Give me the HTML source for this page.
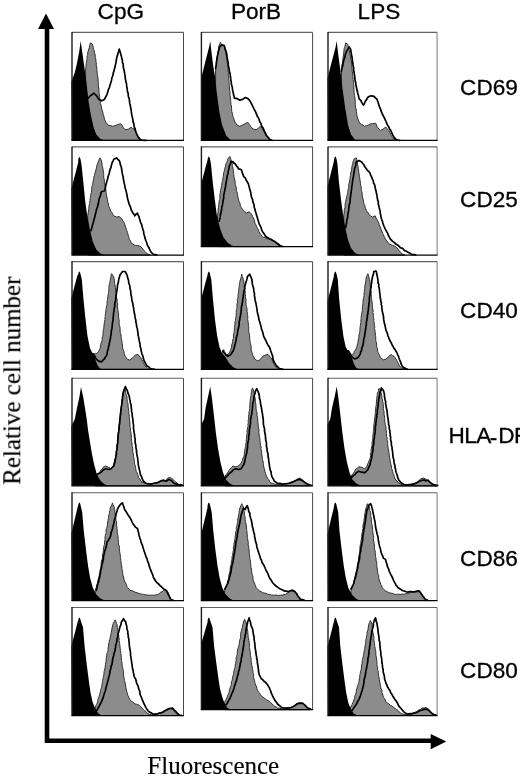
<!DOCTYPE html>
<html><head><meta charset="utf-8"><title>Figure</title>
<style>
html,body{margin:0;padding:0;background:#fff;}
body{width:520px;height:780px;overflow:hidden;position:relative;}
svg{position:absolute;left:0;top:0;display:block;}
.sans{font-family:"Liberation Sans",Arial,Helvetica,sans-serif;font-size:22.6px;fill:#000;stroke:#000;stroke-width:0.3;}
.serif{font-family:"Liberation Serif","Times New Roman",Times,serif;font-size:25px;fill:#000;stroke:#000;stroke-width:0.15;}
.g{fill:#8c8c8c;stroke:#2e2e2e;stroke-width:1.0;stroke-linejoin:round;}
.k{fill:#000;stroke:none;}
.l{fill:none;stroke:#000;stroke-width:1.7;stroke-linejoin:round;stroke-linecap:round;}
.ft{stroke:#626262;stroke-width:1.1;fill:none;}
.fr{stroke:#484848;stroke-width:1;fill:none;}
.fr3{stroke:#6c6c6c;stroke-width:0.9;fill:none;}
.fl{stroke:#1a1a1a;stroke-width:1.4;fill:none;}
.fb{stroke:#000;stroke-width:1.25;fill:none;}
</style></head>
<body>
<svg width="520" height="780" viewBox="0 0 520 780">
<defs><filter id="soft" x="0" y="0" width="520" height="780" filterUnits="userSpaceOnUse"><feGaussianBlur stdDeviation="0.4"/></filter></defs>
<rect width="520" height="780" fill="#fff"/>
<g filter="url(#soft)">
<!-- axes -->
<path d="M47,28V740.7H432" fill="none" stroke="#000" stroke-width="4.6" stroke-linejoin="miter"/>
<polygon points="46,13.5 38,29 54,29" fill="#000"/>
<polygon points="446.3,741.5 430.7,734 430.7,749.2" fill="#000"/>
<!-- column headers -->
<text class="sans" x="97.6" y="19.3">CpG</text>
<text class="sans" x="230.9" y="19.3">PorB</text>
<text class="sans" x="357.6" y="19.3">LPS</text>
<!-- row labels -->
<text class="sans" x="460.1" y="95.3">CD69</text>
<text class="sans" x="460.1" y="207.3">CD25</text>
<text class="sans" x="460.1" y="317.6">CD40</text>
<text class="sans" x="448.5" y="443.3" letter-spacing="-0.6" dx="0 0 0 -0.8 1.4 0" dy="0 0 0 1.5 -1.5 0">HLA-DR</text>
<text class="sans" x="460.1" y="565.5">CD86</text>
<text class="sans" x="460.1" y="678.3">CD80</text>
<!-- axis titles -->
<text class="serif" x="147.3" y="774">Fluorescence</text>
<text class="serif" transform="translate(20.3,484.8) rotate(-90)">Relative cell number</text>
<g><polygon class="g" points="85.6,140.3 85.6,68.5 86.0,67.1 86.0,65.0 86.2,63.5 86.6,61.8 86.6,60.5 87.1,58.8 87.0,57.4 87.4,55.3 87.7,54.4 87.7,52.3 88.3,51.1 88.5,49.4 89.3,47.8 89.5,45.7 89.9,44.6 90.4,42.9 92.3,44.2 93.0,46.3 93.2,47.8 93.5,49.4 94.1,50.3 94.5,52.3 94.9,54.0 95.3,56.0 95.1,57.7 95.9,59.3 95.9,61.6 96.3,63.1 96.3,64.8 96.5,66.9 97.0,68.1 96.8,69.6 97.2,71.9 97.1,73.2 97.6,74.9 97.7,76.5 98.0,78.2 98.2,79.9 98.1,81.3 98.3,82.9 98.4,84.4 98.3,85.9 98.7,88.0 98.8,89.1 99.0,91.4 99.0,92.7 99.5,94.8 99.7,96.7 99.7,98.0 100.0,99.7 100.3,102.0 100.4,103.5 101.0,105.3 101.5,107.1 101.7,109.0 102.4,111.0 102.8,112.1 103.1,114.2 103.7,115.8 104.2,117.8 104.6,119.3 105.0,120.4 105.8,122.3 107.3,123.8 108.5,125.5 110.7,125.6 112.5,126.3 114.3,125.9 116.5,125.0 118.3,124.4 120.6,123.7 121.7,125.0 122.5,125.9 123.3,127.7 124.7,128.9 126.0,129.8 128.7,129.0 130.0,128.0 131.3,127.2 132.6,128.5 134.0,129.0 134.7,130.4 136.1,132.3 136.7,134.4 137.4,135.5 138.7,137.5 139.4,138.5 140.5,139.3 142.1,140.3 142.1,140.3"/><polygon class="k" points="72.0,140.3 71.3,81.9 74.8,72.5 76.6,65.0 79.1,52.3 80.7,41.0 82.1,51.0 84.0,64.4 86.4,81.9 88.5,100.8 90.7,114.2 93.7,127.7 96.3,134.4 100.4,139.0 104.4,140.3 104.4,140.3"/><polyline class="l" points="88.3,98.1 89.4,96.7 91.0,95.4 92.4,94.5 93.7,93.2 95.1,94.3 96.3,95.4 97.4,96.8 97.9,98.0 99.0,99.4 101.7,100.8 104.4,99.4 105.1,98.0 106.4,95.7 107.1,94.0 107.6,92.6 108.1,90.6 108.6,89.1 109.3,87.9 109.8,86.0 110.1,84.8 110.7,83.1 111.3,81.0 111.7,79.4 111.8,78.0 112.5,76.5 113.1,74.8 113.2,73.2 114.0,70.9 114.3,69.5 114.9,67.3 115.2,65.8 115.5,64.6 115.9,62.8 116.3,61.1 116.3,59.6 116.8,57.8 117.1,56.3 117.8,54.4 118.1,52.9 118.8,51.2 119.2,49.1 119.8,50.7 120.5,53.0 120.9,54.7 121.4,56.3 121.7,57.9 122.1,59.2 122.4,61.3 122.5,62.8 123.1,63.9 123.3,65.8 123.4,67.6 123.8,69.2 124.3,71.3 124.6,73.0 124.8,74.4 125.2,76.5 125.2,78.0 125.7,80.1 125.8,81.5 126.4,83.2 126.6,85.0 126.8,86.6 127.1,88.5 127.3,90.0 127.5,92.0 128.2,93.2 128.2,95.2 128.5,96.9 129.2,98.7 129.5,100.8 129.6,102.9 130.0,104.4 130.4,106.0 130.7,107.7 131.1,109.5 131.3,111.5 131.5,113.1 131.9,115.5 132.3,117.3 132.6,118.5 133.0,120.3 133.2,122.3 133.9,123.8 134.0,125.4 134.4,127.5 135.2,128.8 135.4,130.4 135.9,131.7 136.5,133.6 137.5,135.5 138.1,137.1 139.6,138.7 140.8,139.8 142.5,140.1 144.3,140.3 146.2,140.3"/><path class="ft" d="M72.0,32.4H183.5"/><path class="fr" d="M183.5,32.4V140.3"/><path class="fl" d="M72.0,31.9V140.3"/><path class="fb" d="M71.4,140.3H184.0"/></g>
<g><polygon class="g" points="215.6,140.3 215.6,68.5 215.6,67.0 216.2,64.7 216.2,63.0 216.6,61.5 216.5,59.1 216.9,57.7 217.4,55.9 217.7,53.8 217.8,52.7 218.0,51.2 218.7,48.6 218.5,47.3 219.1,45.6 220.0,43.7 220.4,42.1 221.2,43.8 222.3,45.6 224.5,45.6 224.5,47.0 225.1,48.9 225.3,50.4 225.8,52.3 225.9,54.0 226.2,55.2 226.7,57.4 226.8,58.8 227.3,61.0 227.0,62.3 227.6,64.3 227.7,65.8 228.1,67.3 228.1,69.2 228.0,70.7 228.4,72.5 228.4,73.9 228.2,75.2 228.8,77.0 228.6,78.7 229.0,80.5 229.0,81.9 229.1,83.5 229.3,85.4 229.5,86.7 229.6,88.0 229.5,90.2 230.1,91.7 229.9,92.9 230.1,95.3 230.4,96.5 230.4,98.1 230.7,99.5 230.7,101.8 230.9,103.1 230.9,104.9 231.5,106.0 231.5,108.5 231.8,110.1 231.7,111.5 232.3,113.1 232.7,114.6 232.8,116.6 233.6,117.6 234.0,119.4 234.4,121.0 235.2,122.2 236.2,123.8 237.1,125.0 239.8,126.3 242.5,125.0 245.2,123.7 247.9,122.3 248.8,123.6 249.4,124.8 250.6,126.3 251.7,127.8 253.3,129.0 256.0,129.8 257.5,129.0 258.7,127.7 260.5,126.3 261.8,128.0 262.7,129.0 263.5,131.1 264.6,132.3 265.4,134.4 266.0,135.3 267.3,136.9 268.1,138.5 269.2,139.5 270.8,140.3 270.8,140.3"/><polygon class="k" points="201.4,140.3 201.3,77.9 205.6,60.4 209.1,46.9 210.2,41.0 211.5,52.3 213.2,65.8 215.0,76.5 216.4,90.0 219.3,111.5 222.0,125.0 226.3,135.8 230.4,139.8 230.4,140.3"/><polyline class="l" points="215.6,68.5 215.9,66.5 216.3,65.4 216.4,63.5 216.5,61.5 216.8,60.2 217.1,58.7 217.3,56.4 217.7,55.0 217.9,53.6 218.4,51.7 218.8,50.3 219.2,48.3 219.6,46.9 221.8,44.8 224.2,45.6 224.7,47.1 225.1,49.2 225.9,50.8 226.3,52.3 226.8,54.0 226.9,55.8 227.2,57.8 227.4,59.5 227.9,61.2 228.2,63.1 228.3,64.9 228.5,66.5 228.9,67.8 229.2,69.5 229.4,71.6 230.0,73.1 230.2,74.8 230.4,76.5 230.7,78.5 230.8,80.2 231.3,81.7 231.2,82.9 231.5,84.8 232.2,86.9 232.4,88.0 232.5,90.0 233.0,91.8 233.4,93.5 233.5,94.6 234.2,96.7 234.4,98.1 237.1,98.6 239.8,100.2 242.5,99.4 244.0,98.4 245.2,97.5 247.9,98.6 249.4,100.1 250.6,102.1 251.7,104.2 252.3,105.4 253.3,107.5 254.2,109.4 255.0,110.7 256.0,112.9 256.8,114.9 257.6,116.8 258.7,118.3 259.2,119.7 259.8,122.0 260.9,123.2 261.3,125.0 262.0,126.9 263.3,128.2 264.0,130.4 265.0,132.5 265.8,134.0 266.7,135.8 268.2,137.3 269.4,139.3 272.1,140.3"/><path class="ft" d="M201.4,32.4H312.6"/><path class="fr" d="M312.6,32.4V140.3"/><path class="fl" d="M201.4,31.9V140.3"/><path class="fb" d="M200.8,140.3H313.1"/></g>
<g><polygon class="g" points="341.5,140.3 341.5,68.5 342.0,67.2 341.7,64.9 342.4,63.8 342.5,61.8 342.7,60.5 342.9,58.5 343.0,57.1 343.4,56.0 343.7,54.0 343.7,52.3 344.0,50.5 344.1,48.7 344.6,47.4 344.9,46.4 345.3,44.5 345.6,42.9 347.7,44.2 348.0,45.4 348.4,47.1 348.9,49.5 349.3,50.4 349.6,52.3 350.1,54.4 350.4,56.3 350.7,58.0 350.8,59.9 351.4,61.0 351.5,63.1 351.8,65.0 351.8,66.5 352.0,68.5 352.2,70.1 352.3,71.8 352.7,73.1 352.7,75.2 352.8,76.5 353.1,78.1 353.0,79.6 353.4,81.1 353.6,82.8 353.7,84.4 353.9,86.4 353.8,87.9 354.0,89.5 354.0,90.8 354.2,92.7 354.4,94.8 354.6,95.7 354.9,97.9 355.1,99.1 355.2,100.7 355.3,102.6 355.2,104.8 355.5,106.2 355.6,107.9 356.3,109.4 356.3,111.7 356.7,113.3 356.8,114.7 357.2,116.7 357.7,118.3 358.4,120.5 359.2,122.1 360.4,123.7 361.5,124.3 363.2,125.1 364.4,126.3 366.3,125.8 368.5,125.0 370.4,123.9 372.5,123.7 375.2,123.1 376.4,124.3 376.7,126.0 377.9,127.7 379.3,129.3 380.6,130.4 383.3,129.0 384.4,127.9 386.0,127.2 387.1,128.7 388.7,130.4 389.7,132.4 390.7,134.2 391.3,135.8 392.9,137.7 394.0,139.3 396.7,140.3 396.7,140.3"/><polygon class="k" points="328.0,140.3 327.5,77.9 332.1,60.4 335.6,46.9 336.7,41.0 338.3,55.0 340.5,71.2 342.3,87.3 345.3,108.8 348.0,125.0 351.0,134.4 355.0,139.8 355.0,140.3"/><polyline class="l" points="341.4,71.3 341.6,69.7 342.0,68.1 342.6,66.1 343.0,64.5 343.3,62.7 343.6,60.8 344.3,58.9 344.9,57.1 345.2,55.0 345.8,53.2 346.3,52.0 347.2,50.2 348.2,48.6 349.1,46.9 350.6,49.2 350.9,51.2 351.2,53.1 351.5,55.1 352.0,56.9 352.2,58.6 352.3,59.8 352.6,61.9 352.9,63.5 353.0,64.9 353.3,66.6 353.7,68.0 353.6,69.9 354.0,71.5 354.2,73.1 354.5,75.1 354.8,76.5 354.8,78.1 355.1,80.1 355.4,81.5 355.8,83.2 355.9,84.9 356.3,86.7 356.6,88.0 356.8,89.6 357.5,91.6 357.7,93.8 358.4,95.1 358.7,97.3 359.4,99.2 360.8,100.4 361.6,102.1 362.4,103.7 363.5,105.0 364.7,102.8 365.4,101.1 366.4,99.9 367.2,98.3 368.3,96.9 371.2,95.8 374.1,96.4 375.4,97.8 377.0,99.2 377.5,100.8 378.2,102.8 378.9,105.0 379.3,106.3 380.0,107.9 380.7,109.5 381.1,110.9 381.8,112.7 382.4,114.3 383.1,115.5 384.1,117.3 384.7,118.5 385.4,120.4 386.2,121.6 386.6,123.2 387.6,125.2 388.7,126.8 389.6,128.9 390.6,130.2 391.4,131.9 391.9,133.2 392.7,134.9 393.7,136.6 394.3,137.7 395.8,139.2 397.2,140.0 399.7,140.3"/><path class="ft" d="M328.0,32.4H437.1"/><path class="fr3" d="M437.1,32.4V140.3"/><path class="fl" d="M328.0,31.9V140.3"/><path class="fb" d="M327.4,140.3H437.6"/></g>
<g><polygon class="g" points="87.7,255.0 87.7,215.8 88.0,214.0 88.2,212.1 88.6,211.0 88.8,208.7 88.9,207.2 89.0,206.1 89.6,203.6 89.6,202.3 90.1,200.7 90.1,198.7 90.5,197.2 90.8,195.7 90.8,194.1 91.5,192.6 91.6,190.1 91.8,188.8 91.8,186.8 92.7,185.3 92.7,184.2 93.0,182.2 93.4,180.0 93.8,179.1 93.9,176.8 94.5,175.4 94.9,173.2 95.4,172.1 95.9,170.0 96.4,167.9 96.7,166.3 97.2,164.6 97.9,162.6 98.6,160.9 99.0,159.8 99.8,157.9 101.0,159.8 101.7,161.9 102.0,163.3 102.1,165.3 102.4,166.4 102.8,168.1 103.1,170.0 103.4,172.1 103.7,173.6 103.7,175.3 103.7,177.4 104.1,178.8 104.4,180.8 104.4,182.4 104.9,184.0 105.3,186.0 105.2,187.5 105.8,189.2 105.9,190.5 106.1,192.5 106.3,194.2 106.6,196.0 107.1,197.9 107.4,199.3 107.7,201.8 108.1,202.8 108.5,205.0 108.9,206.7 109.6,208.0 110.3,210.0 111.2,211.7 112.3,213.1 112.9,214.4 113.8,215.8 116.5,217.1 119.2,216.6 120.6,217.7 121.9,219.0 122.9,221.0 123.8,222.2 124.6,223.8 125.2,225.9 125.5,227.0 126.3,229.1 126.8,230.6 127.3,232.3 127.9,233.9 128.3,236.0 128.7,237.3 129.5,239.4 130.6,241.2 131.3,242.7 132.4,244.0 134.2,244.9 135.4,245.4 137.7,245.5 139.4,245.9 140.9,246.7 142.1,248.1 143.5,250.1 144.8,251.3 146.0,252.5 147.5,254.0 150.2,254.8 150.2,255.0"/><polygon class="k" points="72.0,255.0 71.3,188.8 75.6,172.7 78.3,161.9 78.2,159.8 78.9,157.2 79.9,157.2 80.6,159.8 81.5,164.6 83.2,180.8 85.0,199.6 87.2,215.8 89.9,229.2 92.6,241.3 96.3,249.4 100.4,253.5 104.4,254.8 104.4,255.0"/><polyline class="l" points="91.0,230.6 91.6,228.9 92.0,227.2 92.3,225.7 92.8,224.0 93.2,222.6 93.7,221.2 93.9,219.6 94.7,217.3 95.1,215.8 95.4,214.0 96.0,212.0 96.3,210.4 96.7,208.6 97.5,207.1 97.8,205.0 98.3,203.6 98.8,201.2 99.0,199.6 99.5,197.8 100.1,196.7 100.7,194.6 101.0,192.9 101.7,191.5 104.4,191.0 105.0,189.5 105.6,186.8 105.7,185.1 106.3,183.5 106.7,181.6 107.2,180.2 107.7,178.6 108.0,176.6 108.5,175.4 109.1,173.8 109.5,172.1 109.6,171.1 110.3,168.8 110.9,167.9 111.2,166.0 111.6,164.6 112.3,162.3 113.0,161.2 113.8,159.2 116.5,157.9 117.9,159.3 119.2,160.6 119.9,162.1 120.1,163.6 120.7,165.7 121.4,167.3 121.5,168.7 121.9,170.5 122.1,172.4 122.5,174.4 123.1,176.4 123.3,178.1 123.4,179.5 123.9,181.6 124.3,183.5 124.8,185.4 124.9,186.9 125.4,188.8 126.0,190.5 126.4,192.4 126.7,193.8 127.0,195.1 127.3,196.9 127.6,198.5 128.0,199.9 128.4,201.5 128.8,203.1 129.5,205.0 130.2,206.3 130.9,208.5 131.3,210.0 132.2,211.7 133.1,213.4 134.0,214.1 134.8,215.8 136.0,214.2 137.5,213.1 138.0,215.1 139.0,216.4 139.4,218.5 140.1,220.4 140.4,221.7 140.9,223.2 141.7,224.7 142.1,226.5 142.6,228.4 143.2,230.5 143.7,231.8 143.8,234.0 144.5,235.8 144.8,237.3 145.4,239.3 145.7,240.3 146.5,242.0 147.0,243.8 147.5,245.4 148.5,247.0 149.5,249.0 150.2,250.8 151.3,252.2 152.9,254.0 154.9,254.7 156.9,254.8"/><path class="ft" d="M72.0,146.9H183.5"/><path class="fr" d="M183.5,146.9V255.0"/><path class="fl" d="M72.0,146.4V255.0"/><path class="fb" d="M71.4,255.0H184.0"/></g>
<g><polygon class="g" points="217.5,246.6 217.5,215.8 217.6,214.1 218.1,212.4 218.1,210.8 218.1,209.0 218.5,207.6 218.5,205.5 218.7,204.3 219.1,202.3 219.4,200.2 219.8,199.4 219.9,197.4 219.8,195.1 220.3,193.5 220.3,192.0 220.5,190.5 221.0,188.8 221.2,187.4 221.6,185.4 221.9,183.6 222.2,181.5 222.8,180.3 222.8,178.1 223.4,176.5 223.5,174.2 223.8,172.3 224.4,170.8 224.8,169.0 225.0,167.3 225.8,166.0 225.8,163.8 226.8,162.4 227.4,160.8 227.7,159.2 228.5,158.0 229.8,156.5 230.6,158.1 230.9,160.0 231.7,161.9 232.3,164.0 232.2,165.3 232.5,166.9 233.1,168.8 233.3,170.9 233.6,172.7 233.7,174.6 234.0,176.2 234.2,177.7 234.5,179.2 235.2,181.4 235.1,183.1 235.3,184.4 235.8,186.2 236.3,188.1 236.3,190.2 236.7,191.3 237.4,193.2 237.5,194.7 237.9,196.9 238.2,198.6 238.7,200.2 239.2,201.6 240.0,203.2 240.2,205.1 240.6,206.3 241.3,207.4 242.6,209.3 243.3,210.4 244.8,211.5 246.5,213.1 249.2,211.7 250.7,213.5 251.9,214.4 252.4,216.5 253.5,217.9 253.9,219.1 254.6,221.2 255.0,223.3 255.8,224.7 256.5,226.5 257.3,227.9 258.3,229.5 258.9,231.7 260.0,233.3 260.8,234.4 262.2,236.3 263.2,237.3 265.0,237.8 266.7,238.7 269.0,239.1 270.8,240.0 272.1,240.5 274.0,241.3 275.3,242.3 276.7,244.0 278.3,245.0 280.2,246.2 280.2,246.6"/><polygon class="k" points="201.4,246.6 201.3,183.5 204.8,170.0 207.4,160.6 207.6,159.2 208.4,156.7 209.3,156.7 210.1,159.2 211.0,164.6 212.6,180.8 214.8,199.6 216.9,215.8 219.9,227.9 223.4,237.3 227.7,242.7 231.7,245.4 235.8,246.5 235.8,246.6"/><polyline class="l" points="219.1,221.2 219.6,219.3 220.0,217.9 220.2,216.4 220.4,214.4 221.0,213.1 221.2,211.2 221.6,209.8 221.7,208.1 221.9,206.8 222.5,204.9 222.7,203.2 223.0,201.6 223.1,200.1 223.6,198.7 223.7,196.9 223.7,195.0 224.2,193.5 224.3,192.4 224.9,190.1 224.8,188.9 225.5,187.5 225.6,185.8 225.8,184.0 226.2,182.1 226.3,180.8 226.8,179.3 226.9,177.6 227.2,176.1 227.8,174.0 228.1,172.7 228.3,170.4 228.8,169.3 229.0,167.3 229.6,165.5 230.4,163.5 231.2,161.4 233.1,161.9 234.3,163.4 235.5,164.1 236.5,166.1 237.7,167.0 238.5,168.9 241.2,169.5 241.9,171.2 242.1,172.6 242.7,173.7 243.3,175.7 244.0,176.9 245.3,178.0 246.0,179.7 247.3,182.0 248.4,183.7 248.8,185.7 249.4,187.6 249.8,189.6 250.3,191.0 250.7,192.4 250.9,194.0 251.3,196.2 251.7,197.7 252.5,199.1 252.7,200.7 252.9,202.1 253.8,203.9 254.1,205.4 254.2,207.2 254.8,208.7 255.3,210.7 255.7,212.3 256.2,213.7 256.6,215.3 257.2,217.0 257.7,219.1 258.1,220.4 258.7,222.0 259.1,223.8 259.9,225.2 260.5,226.3 261.2,227.8 261.6,229.8 262.4,231.4 263.7,233.2 264.6,234.5 265.4,236.2 267.4,237.5 269.4,238.7 271.0,239.3 272.9,240.5 274.7,241.4 276.7,243.0 278.2,244.0 280.2,245.7 282.9,246.5"/><path class="ft" d="M201.4,146.9H312.6"/><path class="fr" d="M312.6,146.9V246.6"/><path class="fl" d="M201.4,146.4V246.6"/><path class="fb" d="M200.8,246.6H313.1"/></g>
<g><polygon class="g" points="343.7,255.0 343.7,215.8 343.9,214.2 344.3,212.1 344.1,210.6 344.5,209.3 345.0,207.4 345.1,205.8 345.1,203.9 345.6,202.3 345.8,201.1 346.1,199.4 346.5,197.6 347.0,195.8 347.5,194.2 347.9,192.1 347.8,191.2 348.3,188.8 348.8,187.9 348.6,185.7 348.9,184.0 349.4,182.1 349.6,180.8 350.0,178.7 350.0,177.7 350.4,175.6 350.7,174.0 350.9,171.9 351.4,171.1 351.8,169.1 351.8,167.3 352.2,165.5 352.8,164.0 353.0,161.9 353.6,160.4 354.2,158.7 356.3,157.9 356.8,159.5 356.7,161.3 357.3,162.6 357.5,164.1 357.9,166.0 358.2,167.3 358.3,169.1 358.6,171.1 358.8,172.5 359.2,174.6 359.3,176.2 359.8,178.1 359.9,179.6 360.3,181.9 360.5,183.5 360.6,185.2 361.0,186.2 361.4,188.5 361.2,189.6 361.7,191.5 362.2,193.2 362.2,194.7 362.4,197.0 363.2,199.2 363.3,200.1 363.6,202.3 364.1,204.2 364.9,205.7 365.1,207.2 365.8,208.9 366.3,210.4 367.1,212.1 368.3,212.8 369.0,214.4 370.6,216.1 372.5,217.1 375.2,215.8 376.0,218.0 377.0,219.5 377.9,221.2 378.7,222.6 379.1,224.3 380.0,226.4 380.6,227.9 381.1,229.9 381.9,231.0 382.6,233.4 383.3,234.6 384.2,236.5 385.3,238.6 386.0,240.0 387.3,241.3 388.3,243.1 389.5,244.0 391.2,244.8 392.7,245.4 394.2,245.9 395.9,246.7 397.2,248.1 398.0,249.6 399.4,250.8 401.0,252.7 402.1,254.0 404.8,254.8 404.8,255.0"/><polygon class="k" points="328.0,255.0 327.5,186.2 331.0,172.7 333.7,161.9 334.1,159.2 334.9,156.7 335.8,156.7 336.6,159.2 337.5,164.6 338.8,180.8 341.0,199.6 343.2,215.8 345.3,227.9 348.0,240.0 351.0,248.1 355.0,252.9 359.0,254.8 359.0,255.0"/><polyline class="l" points="345.6,227.9 345.9,226.3 346.2,224.6 346.7,222.9 346.6,220.7 347.1,219.1 347.6,217.7 347.7,215.8 348.0,214.0 348.1,212.6 348.7,210.7 348.7,209.2 349.0,207.5 349.0,206.2 349.3,204.6 349.9,202.9 350.1,201.5 350.2,199.6 350.2,197.8 350.7,196.4 350.6,195.0 351.1,193.1 351.2,191.3 351.5,189.6 351.7,188.7 351.7,186.5 352.1,185.4 352.3,183.5 352.4,181.7 352.9,179.8 352.9,178.6 353.4,176.8 353.7,174.7 353.9,173.4 354.2,171.4 354.5,170.0 354.6,168.4 355.3,166.9 355.8,165.1 355.9,163.4 356.3,161.9 359.0,160.6 361.7,161.9 362.6,163.4 363.7,164.3 364.4,166.0 365.4,167.5 366.3,168.6 367.1,170.0 368.3,171.2 369.8,172.7 370.5,174.6 371.0,175.9 371.8,177.4 372.5,179.4 373.3,180.9 373.5,183.0 374.3,184.1 374.9,186.1 375.2,187.5 375.5,189.0 376.0,191.0 376.2,192.1 376.6,193.9 377.0,195.6 377.1,196.9 377.5,199.0 377.8,200.6 378.3,202.3 378.3,204.4 378.9,205.9 379.2,207.7 379.6,209.3 380.1,211.1 380.2,213.2 380.7,214.7 380.8,216.6 381.4,218.5 381.9,220.1 382.5,221.5 382.8,223.0 383.6,225.3 384.1,226.5 385.1,228.7 385.7,229.9 386.8,231.9 387.8,233.6 388.5,235.8 389.5,237.3 390.3,239.0 391.5,240.1 392.7,241.3 394.4,242.7 395.9,244.0 397.8,245.2 399.4,246.7 400.6,247.8 402.3,248.2 403.5,249.4 404.6,250.7 405.9,250.9 407.5,252.1 409.5,253.1 411.5,254.3 413.7,254.5 415.6,254.8"/><path class="ft" d="M328.0,146.9H437.1"/><path class="fr3" d="M437.1,146.9V255.0"/><path class="fl" d="M328.0,146.4V255.0"/><path class="fb" d="M327.4,255.0H437.6"/></g>
<g><polygon class="g" points="92.8,369.4 92.8,353.7 94.8,353.8 96.3,353.7 97.8,352.7 99.0,351.0 99.4,349.5 100.2,348.2 100.4,346.0 100.8,345.1 101.1,342.9 101.7,341.5 102.2,339.8 102.1,338.0 102.8,336.3 102.8,334.9 103.2,333.1 103.1,331.5 103.4,329.4 103.9,328.1 103.9,326.6 104.1,325.0 104.3,322.9 104.4,321.8 105.0,319.7 104.9,317.9 105.3,316.6 105.2,315.3 105.6,313.5 105.8,311.9 105.8,310.4 106.2,308.6 106.2,307.5 106.8,305.6 107.1,303.9 107.0,301.9 107.3,300.6 107.5,299.4 107.9,297.0 107.9,295.8 108.4,293.6 108.5,292.2 108.8,291.1 108.9,289.3 108.9,287.5 109.1,285.6 109.5,283.6 109.8,282.3 110.3,280.2 110.4,278.5 111.0,277.0 111.1,275.0 111.7,273.7 112.6,275.3 113.8,276.9 113.9,278.3 114.5,280.5 114.5,282.1 114.7,283.9 115.1,285.6 115.5,287.7 115.5,289.1 115.8,291.1 116.3,292.9 116.2,294.0 116.3,296.2 116.6,298.1 117.1,299.3 117.1,301.2 117.2,302.6 117.5,304.0 117.4,306.3 117.7,308.0 117.8,309.5 118.0,310.5 118.2,312.2 118.6,314.3 118.5,316.1 118.7,317.3 118.9,319.3 119.2,320.2 119.1,322.5 119.2,324.2 119.4,325.6 119.9,326.9 120.1,328.7 120.1,330.0 120.1,332.0 120.6,333.5 121.0,335.0 121.2,336.7 121.2,338.8 121.7,339.8 122.0,341.7 122.1,343.4 122.5,345.1 122.5,346.9 122.7,348.1 123.1,349.8 123.9,351.3 124.0,353.2 124.6,355.0 125.3,356.6 126.1,357.9 127.3,359.0 130.0,360.4 131.3,358.7 132.7,357.7 133.9,356.4 135.4,355.0 138.1,354.5 139.3,356.0 140.8,357.7 141.6,359.5 142.7,361.1 143.5,363.1 144.4,364.6 145.1,366.0 146.2,367.1 147.3,368.1 148.8,369.0 148.8,369.4"/><polygon class="k" points="72.0,369.4 71.3,298.5 74.8,285.0 77.4,275.6 78.2,274.2 78.9,271.7 79.9,271.7 80.6,274.2 81.8,279.6 83.4,298.5 85.3,317.3 87.5,336.2 90.0,348.3 92.7,353.7 94.3,355.5 96.1,361.7 98.0,366.3 100.9,369.0 100.9,369.4"/><polyline class="l" points="92.8,353.7 93.8,354.8 94.9,356.5 95.5,357.7 96.9,359.7 98.2,360.9 99.8,361.6 101.7,361.7 102.9,360.2 104.4,359.0 105.2,357.4 106.4,355.6 107.1,353.7 107.4,351.6 107.8,350.0 108.3,348.5 108.5,346.5 109.2,345.2 109.2,343.6 109.8,341.5 110.1,339.8 110.5,338.3 110.6,336.4 110.9,335.1 111.3,332.8 111.2,331.3 111.6,330.0 112.0,328.1 112.2,326.2 112.3,324.9 112.5,323.0 112.8,321.4 113.1,319.9 113.1,318.6 113.2,317.1 113.5,315.2 113.5,313.4 113.8,311.9 114.1,310.6 114.1,309.0 114.7,306.7 114.8,305.3 114.7,304.2 115.0,302.2 115.5,300.7 115.8,299.4 115.8,297.1 116.0,295.8 116.4,293.8 116.5,292.1 117.0,290.3 117.2,288.9 117.4,287.3 117.5,285.1 117.9,283.7 118.4,282.1 118.6,280.2 118.9,278.8 119.5,277.0 119.8,275.6 120.4,274.2 121.4,273.1 122.5,271.5 125.2,271.5 126.3,273.6 127.3,275.6 127.5,277.3 128.0,278.9 128.5,280.0 128.6,281.9 128.9,283.2 129.5,285.0 129.9,286.4 130.0,288.3 130.6,290.6 130.8,292.4 130.9,294.2 131.3,295.8 131.6,297.5 131.8,299.2 132.2,301.4 132.6,302.8 133.0,304.6 133.2,306.5 133.7,308.1 133.7,309.9 134.2,311.8 134.4,313.5 134.8,315.0 135.0,316.9 135.4,318.7 135.8,320.1 135.9,322.4 136.3,323.4 136.6,326.0 136.9,327.5 137.4,328.8 137.5,330.8 138.0,332.2 138.0,334.5 138.4,336.4 138.8,338.0 139.1,339.9 139.4,341.5 140.0,343.7 140.1,345.5 140.3,347.1 140.9,348.4 141.1,350.7 141.6,352.3 141.8,353.9 142.6,355.3 143.1,356.8 143.3,358.4 144.0,360.4 144.9,362.1 145.9,364.1 146.7,365.8 148.6,366.7 150.2,368.5 152.2,369.1 154.2,369.0"/><path class="ft" d="M72.0,261.6H183.5"/><path class="fr" d="M183.5,261.6V369.4"/><path class="fl" d="M72.0,261.1V369.4"/><path class="fb" d="M71.4,369.4H184.0"/></g>
<g><polygon class="g" points="222.3,369.4 222.3,352.3 223.7,349.6 224.4,351.6 225.5,353.2 226.3,355.0 229.0,353.7 229.6,352.2 230.6,350.3 231.1,348.4 231.7,346.9 231.7,345.1 232.3,343.2 232.7,341.6 232.7,339.8 233.3,338.7 233.5,336.9 233.4,335.0 233.9,333.5 234.1,331.5 234.5,330.1 234.3,328.9 234.4,327.4 234.8,325.4 234.9,323.8 235.0,321.7 235.6,320.3 235.7,318.7 235.8,317.3 236.2,315.9 236.2,314.1 236.3,312.4 236.3,310.4 236.8,308.5 237.0,307.4 236.9,305.2 237.1,303.5 237.6,301.8 237.2,299.8 237.7,298.5 238.0,297.3 238.1,295.2 238.3,293.8 238.4,292.1 238.8,290.5 238.8,288.5 239.1,287.5 239.3,285.6 239.5,283.6 239.8,282.3 240.0,281.0 240.7,279.0 241.0,277.6 241.5,276.3 241.7,274.2 242.2,276.5 243.0,277.9 243.3,279.6 243.8,281.4 243.8,283.0 244.3,284.7 244.2,287.1 244.8,288.6 244.9,290.4 245.3,291.6 245.1,293.4 245.4,294.9 245.3,296.7 245.9,298.9 246.0,300.1 245.9,302.1 246.2,303.5 246.1,304.7 246.5,306.5 246.9,308.4 247.1,309.9 247.0,311.5 247.4,312.8 247.4,314.4 247.7,315.8 247.8,318.3 247.6,319.5 248.1,321.4 248.2,322.7 248.4,324.1 248.4,326.3 248.9,327.2 248.6,328.8 248.7,330.7 248.9,332.7 249.4,333.7 249.5,335.5 249.6,337.0 249.8,338.8 249.9,340.2 250.2,342.4 250.6,343.5 251.0,345.9 251.3,347.5 251.1,348.9 251.4,350.9 251.9,352.3 252.4,354.2 253.1,355.9 253.8,356.9 254.6,359.0 255.9,359.8 257.3,360.9 260.0,359.8 261.6,357.9 262.7,356.3 265.4,355.0 268.1,354.5 269.4,356.1 270.8,357.7 271.9,359.1 272.6,361.3 273.5,363.1 274.5,364.8 275.2,365.9 276.2,367.1 277.5,368.2 278.8,369.3 278.8,369.4"/><polygon class="k" points="201.4,369.4 201.3,298.5 204.8,285.0 207.4,275.6 207.6,274.2 208.4,271.7 209.3,271.7 210.1,274.2 211.3,279.6 212.9,298.5 215.0,320.0 217.2,336.2 219.5,346.9 222.2,353.7 224.9,356.3 229.0,363.1 233.1,367.1 237.1,369.3 237.1,369.4"/><polyline class="l" points="222.8,351.0 223.7,352.4 225.0,353.7 226.3,355.3 227.7,356.3 230.4,355.0 231.3,353.7 232.4,352.1 233.1,351.0 233.7,349.3 234.1,348.2 234.6,346.3 235.0,344.3 235.3,343.4 235.8,341.5 236.2,339.8 236.3,338.1 236.7,336.2 237.3,334.9 237.5,332.9 237.7,331.4 238.0,329.6 238.5,328.1 238.7,326.6 239.2,324.3 239.1,323.3 239.3,321.2 239.8,319.7 239.9,318.2 240.4,315.9 240.6,314.6 240.9,312.9 241.0,311.4 241.3,310.0 241.3,307.9 241.6,306.3 242.0,305.2 242.1,303.5 242.5,302.0 242.7,300.1 242.8,298.5 243.2,296.6 243.4,294.9 243.6,293.3 244.0,291.3 244.3,290.0 244.8,288.5 244.7,286.6 245.2,285.0 245.7,283.1 246.2,281.4 246.6,280.2 247.1,278.4 247.3,276.9 248.5,275.3 249.8,274.2 250.4,275.9 251.2,277.6 251.9,279.6 252.1,281.7 252.3,283.6 252.7,285.2 253.3,287.2 253.6,288.2 253.8,290.4 254.2,292.6 254.5,294.0 254.4,295.4 254.8,297.7 255.0,299.4 255.4,301.2 255.9,303.0 256.2,305.0 256.5,306.1 256.8,308.4 257.1,309.9 257.3,311.9 257.5,313.1 258.0,314.8 258.5,316.7 258.7,318.1 258.9,319.5 259.5,321.3 260.1,322.7 260.4,324.5 260.9,325.8 261.2,327.3 261.5,329.1 262.2,330.8 262.7,332.2 263.2,334.0 263.5,335.9 264.1,337.2 264.8,338.8 265.8,340.2 266.5,342.1 267.5,344.2 268.3,345.6 269.4,346.9 270.2,349.1 270.7,350.8 271.3,352.3 271.7,353.9 272.4,355.2 272.8,357.0 273.0,359.1 273.5,360.4 274.3,362.5 275.3,363.7 276.2,365.8 278.0,366.9 279.4,368.7 281.2,368.9 282.9,369.3"/><path class="ft" d="M201.4,261.6H312.6"/><path class="fr" d="M312.6,261.6V369.4"/><path class="fl" d="M201.4,261.1V369.4"/><path class="fb" d="M200.8,369.4H313.1"/></g>
<g><polygon class="g" points="348.3,369.4 348.3,350.2 349.4,351.4 349.8,353.8 351.0,355.0 353.7,353.7 354.4,351.5 355.5,349.9 356.3,348.3 356.9,346.5 357.3,345.0 357.5,343.9 357.9,342.4 358.3,340.0 358.5,338.8 358.9,337.2 358.9,335.2 359.4,333.9 359.7,332.4 359.9,330.5 360.0,328.9 360.0,327.5 360.4,325.4 360.5,324.0 361.0,322.3 360.8,320.8 361.2,318.6 361.1,317.3 361.3,316.1 361.7,314.1 361.8,312.6 362.3,310.7 362.3,309.2 362.4,307.6 362.6,305.9 362.9,304.0 363.1,302.4 363.0,301.1 363.4,298.9 363.6,297.6 364.1,295.5 364.0,293.4 364.4,291.8 364.4,290.4 364.7,288.6 364.8,286.9 365.0,284.9 365.4,283.9 365.7,281.7 365.9,279.9 366.0,278.9 366.3,276.9 367.3,275.3 367.9,273.7 368.6,275.7 369.0,277.7 369.5,279.6 370.0,281.5 369.9,283.2 370.2,284.5 370.5,286.6 370.6,288.4 370.5,289.7 371.0,291.3 371.2,293.1 371.1,294.9 371.4,296.1 371.4,298.3 371.7,299.2 371.8,300.9 372.3,302.5 372.2,304.0 372.4,305.7 372.5,307.8 372.8,309.2 373.2,311.1 372.8,312.4 373.4,313.7 373.3,315.7 373.5,317.5 373.9,318.9 373.8,320.3 373.9,321.8 374.3,323.5 374.4,325.4 374.8,327.1 374.5,328.6 374.9,329.8 375.0,331.4 375.3,333.0 375.4,335.5 375.7,336.5 375.7,338.0 375.8,340.3 376.0,341.5 376.5,342.9 376.6,345.3 376.8,347.2 377.5,348.8 377.5,350.8 377.9,352.3 378.8,353.8 379.6,355.6 380.6,357.7 382.1,358.8 383.3,359.8 386.0,359.0 387.4,358.0 388.7,356.3 390.3,355.1 391.3,354.5 392.6,355.7 394.0,356.3 395.1,357.6 395.9,358.8 396.7,360.4 397.4,361.8 398.5,363.7 399.4,365.8 400.8,367.5 402.1,368.5 404.8,369.3 404.8,369.4"/><polygon class="k" points="328.0,369.4 327.5,301.2 331.0,287.7 333.7,276.9 334.1,274.2 334.9,271.7 335.8,271.7 336.6,274.2 337.8,279.6 339.1,298.5 341.3,320.0 343.4,336.2 345.7,346.9 348.1,351.0 350.0,353.7 352.3,359.0 354.2,364.4 356.3,367.9 359.3,369.3 359.3,369.4"/><polyline class="l" points="348.3,351.0 349.2,352.4 350.2,353.7 351.1,355.7 352.3,357.2 353.8,358.3 355.0,359.0 357.7,357.7 358.6,356.6 359.6,355.1 360.4,353.7 360.6,352.0 361.5,350.6 361.7,349.0 362.0,347.2 362.8,345.8 363.1,344.2 363.3,343.0 363.6,341.0 363.7,339.5 364.2,337.6 364.6,336.3 364.7,334.8 364.9,333.3 365.3,331.2 365.5,330.1 365.8,328.1 366.0,326.1 366.4,324.8 366.3,323.2 366.5,321.7 366.9,320.0 367.1,318.3 367.4,317.0 367.3,315.3 367.9,313.9 367.9,311.9 368.3,310.6 368.4,308.8 368.6,306.6 368.8,305.2 368.9,303.1 369.3,301.9 369.4,299.7 369.3,298.0 369.6,296.4 370.0,294.7 370.1,293.1 370.5,291.0 370.5,290.0 370.8,288.2 371.2,286.5 371.1,284.3 371.7,282.9 371.7,281.0 372.0,279.6 372.3,277.9 372.6,276.5 373.2,274.9 373.6,273.5 373.8,271.5 376.0,271.0 376.5,272.4 376.8,274.6 377.3,276.2 377.5,277.7 377.9,279.6 378.0,281.6 378.1,283.2 378.8,284.3 378.7,286.2 379.2,288.3 379.5,289.8 379.5,291.4 379.8,293.1 380.0,294.9 380.1,296.7 380.3,298.4 380.7,299.3 380.8,301.4 381.4,302.6 381.2,304.5 381.8,306.0 381.9,307.9 382.1,309.4 382.2,310.9 382.7,313.0 383.1,314.7 383.5,316.4 383.6,318.1 383.7,320.1 384.1,321.3 384.3,323.2 384.8,324.3 385.1,326.1 385.4,327.3 385.8,329.6 386.2,330.8 387.0,332.3 387.5,333.9 387.9,335.8 388.7,337.5 389.5,339.7 390.3,341.3 391.3,342.9 392.1,345.0 393.3,346.8 394.0,348.3 395.0,349.3 396.0,351.3 396.7,352.3 397.5,354.3 398.3,355.8 398.9,357.7 399.4,359.2 400.1,360.9 400.8,362.6 401.3,364.4 402.4,366.5 404.0,367.9 405.8,368.6 407.5,369.3"/><path class="ft" d="M328.0,261.6H437.1"/><path class="fr3" d="M437.1,261.6V369.4"/><path class="fl" d="M328.0,261.1V369.4"/><path class="fb" d="M327.4,369.4H437.6"/></g>
<g><polygon class="g" points="95.0,485.8 95.0,476.7 96.4,475.2 97.7,474.0 98.8,472.8 100.4,471.3 101.1,469.8 102.1,468.8 103.1,467.3 105.8,466.0 108.5,467.3 111.2,468.7 112.3,467.3 113.2,466.4 113.8,464.6 114.1,462.4 114.4,461.3 115.0,459.6 115.5,457.6 115.7,455.3 116.0,453.8 115.9,452.5 116.5,450.9 116.6,449.2 116.8,447.7 116.7,445.8 117.0,444.5 117.5,442.3 117.3,440.7 117.6,439.6 117.9,437.7 118.0,436.2 118.1,434.3 118.2,432.7 118.6,431.2 119.0,429.1 118.7,427.8 119.3,425.7 119.2,424.4 119.3,422.1 119.7,420.7 119.8,418.8 120.1,417.4 120.2,415.3 120.2,413.4 120.5,411.9 120.9,410.4 120.9,408.5 121.2,406.7 121.5,405.3 121.6,403.3 121.7,401.9 121.9,400.0 122.5,398.3 122.5,396.8 122.7,394.7 122.9,393.2 123.4,391.4 123.8,389.8 124.9,388.7 125.5,390.6 125.6,392.3 126.0,394.4 126.8,396.0 127.0,398.0 127.1,399.7 127.3,401.5 127.6,402.5 128.1,404.9 128.0,406.4 128.4,408.1 128.5,409.4 128.7,411.7 128.8,413.2 129.2,414.8 129.3,416.5 129.3,417.7 129.5,419.0 129.7,421.2 129.9,422.3 130.0,424.2 130.0,425.8 130.1,427.2 130.6,428.7 130.4,430.4 130.8,431.9 131.1,434.0 131.3,435.8 131.4,437.2 131.3,438.9 131.6,440.4 131.6,441.8 132.1,443.7 132.0,445.2 132.4,446.6 132.6,448.1 132.6,450.0 132.8,451.9 133.1,453.1 133.5,455.2 133.5,456.5 134.0,457.9 134.0,459.5 134.5,461.6 134.5,463.7 134.8,464.5 135.5,466.6 135.8,468.4 135.9,470.0 136.3,471.5 137.1,472.6 137.7,474.4 138.1,475.9 138.6,477.5 139.8,479.0 140.6,480.2 141.6,482.1 144.0,482.5 146.2,483.5 148.0,483.2 149.5,483.9 151.5,484.0 153.2,483.7 155.2,483.2 156.9,482.9 159.0,482.0 161.0,481.3 162.7,481.3 165.0,480.8 166.4,479.8 167.7,478.1 170.4,477.5 171.8,478.6 173.1,479.4 174.2,480.9 175.8,482.1 177.1,483.0 178.5,484.3 181.2,485.3 181.2,485.8"/><polygon class="k" points="72.0,485.8 71.3,426.4 74.8,419.1 77.0,408.1 79.4,397.0 81.0,387.1 83.2,397.0 85.0,408.1 86.7,419.1 88.1,430.4 89.9,441.5 91.7,452.5 93.9,463.5 96.9,474.6 100.9,481.3 104.4,484.3 107.1,485.3 107.1,485.8"/><polyline class="l" points="95.0,476.7 96.4,475.2 97.7,474.0 100.4,472.7 101.8,471.6 103.1,470.0 105.8,468.7 108.5,469.5 111.2,468.7 112.6,466.9 113.8,466.0 114.1,464.3 114.8,462.9 114.9,461.4 115.1,459.8 115.7,457.9 116.0,456.5 116.1,454.9 116.6,453.2 116.3,451.9 116.9,449.9 117.1,448.8 117.1,447.0 117.3,445.3 117.5,443.9 117.9,442.3 117.9,440.4 117.9,439.0 118.0,436.7 118.2,434.9 118.5,433.2 118.7,432.1 118.9,429.8 119.2,428.4 119.1,426.5 119.3,425.0 119.8,423.0 119.8,421.5 119.9,419.6 120.2,418.4 120.2,416.1 120.5,414.7 120.7,413.1 120.8,411.3 121.0,409.6 121.2,408.1 121.5,405.8 121.8,404.3 121.9,402.7 122.2,400.6 122.5,399.0 122.5,397.5 122.8,395.7 123.1,393.8 123.4,392.1 123.8,390.6 124.8,388.3 125.4,386.5 126.3,388.6 127.3,390.6 127.7,392.0 128.3,394.2 129.1,395.7 129.5,397.3 129.6,398.9 130.2,400.7 130.2,402.5 130.9,404.2 131.2,405.9 131.3,408.1 131.6,410.0 131.5,411.4 132.2,413.5 132.2,414.6 132.3,416.3 132.6,417.9 132.9,420.0 133.0,421.5 133.1,423.1 133.5,424.6 133.5,426.1 133.5,428.1 133.7,429.6 133.9,431.1 134.2,432.9 134.6,435.0 134.6,436.3 134.8,437.7 135.2,439.5 135.0,441.5 135.3,443.3 135.6,444.2 135.9,446.1 135.9,447.5 136.3,449.2 136.5,451.2 136.6,452.7 136.9,454.5 137.3,456.5 137.6,457.7 137.8,459.9 137.9,461.3 138.2,462.9 138.3,464.6 138.7,466.7 139.0,467.7 139.3,469.5 139.9,471.4 140.2,473.4 140.5,474.8 141.3,476.1 142.0,478.2 142.4,479.0 143.2,480.8 144.5,482.2 146.2,483.5 148.8,484.0 150.8,484.1 152.9,483.5 154.9,483.0 156.9,482.9 158.8,481.9 161.0,480.8 163.7,480.2 166.3,481.3 167.5,480.4 169.0,479.4 171.7,480.8 173.0,482.3 174.4,483.5 176.4,484.1 178.5,484.8 180.9,484.7 183.0,485.3"/><path class="ft" d="M72.0,378.3H183.5"/><path class="fr" d="M183.5,378.3V485.8"/><path class="fl" d="M72.0,377.8V485.8"/><path class="fb" d="M71.4,485.8H184.0"/></g>
<g><polygon class="g" points="225.0,485.8 225.0,476.7 225.6,475.0 226.7,474.2 227.7,472.7 228.4,471.0 229.3,470.2 230.4,468.7 231.5,467.5 233.1,466.0 235.8,466.8 238.5,466.0 239.9,464.3 241.2,463.3 241.8,461.5 242.5,460.4 243.0,457.8 243.8,456.5 244.4,454.8 244.2,453.0 244.6,451.9 244.8,449.6 245.2,448.2 245.7,446.7 245.7,444.5 246.0,443.1 246.4,441.8 246.1,439.9 246.7,438.1 246.5,436.5 247.0,434.2 247.1,432.5 247.0,430.9 247.3,429.3 247.6,428.0 248.0,426.4 247.9,424.2 248.3,422.8 248.1,420.5 248.5,419.1 248.7,417.0 248.6,416.0 249.0,414.1 248.9,412.1 249.5,410.7 249.7,408.5 249.6,407.4 249.8,405.4 249.9,404.0 250.2,401.7 250.2,400.8 250.4,398.4 250.7,397.2 251.2,395.3 251.2,393.9 251.4,391.9 251.8,389.8 252.5,387.9 253.3,390.0 254.1,391.9 254.1,393.3 254.4,395.5 254.9,397.4 255.2,398.4 255.4,400.8 255.4,401.6 255.7,403.5 256.0,405.4 256.0,406.6 256.1,408.9 256.3,410.3 256.6,411.6 257.1,413.3 256.9,415.0 257.4,416.7 257.7,418.2 257.7,420.1 257.8,421.5 258.0,423.4 258.2,424.6 258.2,426.9 258.8,428.8 258.9,430.2 258.8,432.1 259.0,433.5 259.2,435.1 259.5,436.9 259.9,438.7 260.0,440.4 260.1,442.3 260.6,443.9 260.4,445.3 261.1,446.6 260.9,448.7 261.2,450.0 261.7,451.6 261.6,453.1 261.9,455.1 262.2,456.5 262.4,458.5 262.5,459.7 263.1,461.6 263.4,463.7 263.5,464.7 263.7,466.6 264.2,468.3 264.6,470.0 264.8,471.2 265.6,473.5 266.1,475.2 266.8,476.4 267.3,478.1 268.6,479.5 269.7,481.6 270.8,482.9 272.8,483.4 274.8,484.3 276.3,484.3 278.0,484.0 279.9,484.5 281.5,484.0 283.4,483.8 285.3,483.5 286.9,483.5 288.9,483.4 291.0,482.9 293.0,481.6 295.0,480.8 296.3,480.0 297.7,478.6 300.4,478.1 301.6,479.3 303.1,480.2 304.2,482.0 305.8,482.9 307.9,484.0 309.8,485.3 309.8,485.8"/><polygon class="k" points="201.4,485.8 201.3,424.8 204.1,419.1 205.6,408.1 208.5,394.6 210.2,386.5 211.8,397.3 213.7,413.5 215.8,432.3 218.0,448.5 220.4,461.9 223.1,472.7 225.8,479.4 229.8,483.5 233.1,485.3 233.1,485.8"/><polyline class="l" points="225.0,478.1 226.3,476.9 227.7,475.4 228.8,473.9 230.4,472.7 231.7,471.7 233.1,470.0 235.8,468.7 238.5,469.5 241.2,468.7 242.0,467.4 242.8,465.7 243.8,464.6 244.4,462.9 244.8,461.0 245.2,459.0 245.5,457.1 245.9,455.6 246.5,453.8 246.8,452.4 247.0,450.9 247.3,448.6 247.6,447.4 247.6,445.4 247.7,443.8 247.9,442.8 248.2,441.1 248.7,439.4 248.7,437.7 248.7,435.7 249.3,434.3 249.2,432.9 249.3,431.1 249.4,429.1 249.8,427.8 250.0,425.8 250.4,424.1 250.6,422.5 250.4,420.3 250.8,418.8 251.0,417.1 251.4,415.3 251.7,414.2 251.8,412.2 252.1,410.9 252.3,409.0 252.5,407.3 252.5,405.6 252.7,404.7 253.0,402.7 253.6,400.6 253.8,398.7 254.0,397.3 254.3,395.1 254.9,394.0 255.2,391.9 255.8,390.2 256.8,388.7 257.5,390.4 258.1,391.6 258.7,393.3 259.2,395.1 259.4,396.5 259.4,398.3 260.0,399.5 260.3,401.3 260.5,402.7 260.6,404.1 261.0,405.8 261.4,407.5 261.7,409.5 262.0,411.3 262.2,412.5 262.6,414.6 262.7,416.2 262.9,418.1 263.3,419.5 263.3,420.8 263.3,422.3 263.5,424.4 263.8,426.0 264.1,427.2 264.6,429.0 264.4,430.8 264.8,432.3 265.1,434.3 265.4,435.4 265.5,436.9 265.6,438.7 265.8,440.7 266.3,441.9 266.5,443.5 266.4,445.0 266.6,447.0 267.0,448.5 267.1,449.8 267.3,451.7 267.9,453.2 268.1,455.3 268.0,456.5 268.6,458.5 268.7,459.6 268.8,461.8 269.2,463.3 269.3,464.8 269.6,466.7 270.0,468.7 270.3,470.4 271.1,471.7 271.2,473.9 271.6,475.4 272.1,476.9 272.8,478.3 273.6,479.5 274.3,481.3 276.1,482.3 277.5,483.5 279.1,483.4 281.0,483.7 282.9,484.3 284.8,483.8 286.5,483.7 288.3,483.5 290.2,482.9 292.3,482.1 294.3,481.3 296.3,480.2 299.0,479.4 301.7,480.2 303.1,481.3 304.4,482.1 306.0,483.3 307.1,484.0 309.3,484.9 311.2,485.3"/><path class="ft" d="M201.4,378.3H312.6"/><path class="fr" d="M312.6,378.3V485.8"/><path class="fl" d="M201.4,377.8V485.8"/><path class="fb" d="M200.8,485.8H313.1"/></g>
<g><polygon class="g" points="351.0,485.8 351.0,476.7 351.6,475.1 352.7,474.4 353.7,472.7 354.5,471.5 355.2,470.0 356.3,468.7 357.9,467.7 359.0,466.8 361.7,467.3 364.4,468.7 366.0,467.7 367.1,466.0 367.7,463.8 368.6,462.3 368.9,461.1 369.8,459.2 370.3,457.9 370.6,455.6 370.4,453.8 371.1,452.2 371.0,450.4 371.2,448.7 371.6,447.1 372.0,445.8 372.0,444.4 372.1,442.6 372.6,440.7 372.7,439.2 372.9,437.0 372.9,435.3 373.1,434.2 373.3,431.7 373.5,430.6 373.6,428.8 373.8,426.9 373.8,424.8 374.3,423.1 374.3,421.7 374.4,419.7 374.4,418.8 375.0,417.0 375.0,415.3 375.4,413.3 375.4,411.5 375.4,409.7 375.7,408.1 376.0,406.2 376.3,404.8 376.3,403.4 376.5,401.2 376.5,399.4 376.6,398.6 377.0,397.0 377.3,394.7 377.3,393.3 378.3,391.4 378.7,388.7 380.6,389.2 380.9,390.7 381.1,392.5 381.4,394.2 381.9,396.8 382.0,398.5 382.5,400.0 382.7,401.7 383.1,403.3 383.2,404.6 383.5,406.4 383.2,408.8 383.8,410.3 384.0,411.7 384.1,413.5 384.1,414.9 384.7,417.1 384.5,418.3 384.8,420.3 384.8,421.8 385.1,423.2 385.2,424.4 385.8,426.4 386.0,428.3 386.0,429.6 386.3,430.8 386.4,433.3 386.5,434.1 386.5,436.5 387.2,437.5 387.0,439.5 387.3,440.6 387.7,442.6 387.6,443.7 387.8,445.8 388.1,447.7 388.2,448.8 388.8,451.2 388.9,452.5 389.3,454.2 389.3,455.7 389.6,457.3 390.0,459.2 390.1,460.9 390.6,463.1 391.0,465.0 391.6,466.2 391.6,468.3 392.2,470.0 392.7,471.6 393.0,473.3 393.9,474.8 394.2,476.8 394.8,478.1 395.8,480.1 397.1,480.9 398.1,482.9 400.1,483.5 402.1,484.8 404.0,484.7 405.3,485.2 407.3,484.9 408.8,484.8 410.9,484.0 412.9,484.0 415.2,482.9 416.9,482.1 418.6,480.8 420.2,479.4 421.9,478.3 423.7,478.1 426.3,479.4 427.9,480.8 429.0,482.1 431.0,483.5 433.1,484.3 435.6,485.0 437.7,485.3 437.7,485.8"/><polygon class="k" points="328.0,485.8 327.5,424.8 330.3,419.1 331.8,408.9 334.8,396.0 336.7,386.5 338.3,397.3 340.2,413.5 342.3,432.3 344.5,448.5 346.9,461.9 349.6,472.7 352.3,479.4 356.3,483.5 360.4,485.3 360.4,485.8"/><polyline class="l" points="351.0,478.1 352.3,476.7 353.7,475.4 355.2,474.4 356.3,472.7 359.0,471.3 361.7,472.2 364.4,472.7 365.7,471.9 367.1,470.5 368.1,469.3 368.4,468.0 369.2,466.3 370.1,464.6 370.3,462.9 370.7,461.2 371.3,459.5 371.7,457.7 371.9,455.7 372.2,453.8 372.6,452.3 372.8,450.5 373.1,449.3 372.9,447.6 373.3,445.9 373.7,444.3 373.8,442.8 373.8,440.6 374.1,439.2 374.4,437.7 374.4,435.7 374.7,434.8 375.0,432.9 375.2,431.4 375.3,429.4 375.3,428.1 375.4,426.4 375.8,424.6 375.8,423.6 376.0,421.9 376.3,420.2 376.3,418.3 376.8,417.2 376.6,415.4 377.2,413.9 377.3,412.4 377.3,410.6 377.5,408.9 377.9,407.6 378.1,405.8 378.2,404.0 378.2,402.7 378.6,401.1 378.6,399.3 379.1,397.9 379.4,396.0 379.7,394.3 379.8,392.7 380.5,390.9 381.1,389.8 381.4,387.9 382.4,389.4 383.5,390.6 384.0,392.6 384.4,394.4 384.5,396.6 384.8,398.2 385.2,400.0 385.6,401.4 385.6,403.5 385.9,405.3 386.2,407.1 386.5,408.2 386.8,409.8 387.1,411.7 387.3,413.5 387.4,414.8 387.7,416.9 388.1,418.6 388.1,420.1 388.4,421.2 388.6,423.3 388.6,424.5 389.3,426.6 389.2,427.8 389.5,429.6 389.9,431.3 389.9,433.0 390.3,434.1 390.2,435.8 390.7,437.3 390.5,439.6 390.8,440.5 391.4,442.7 391.3,444.4 391.6,445.8 392.0,447.0 392.1,449.3 392.5,451.0 392.7,452.6 392.8,454.3 392.9,455.6 393.1,457.5 393.7,459.0 393.8,460.6 394.1,462.7 394.4,464.1 394.9,465.4 395.0,467.4 395.6,469.1 395.6,470.7 396.2,472.7 396.8,474.2 397.5,476.1 397.6,477.5 398.1,478.3 398.9,480.2 400.6,482.1 402.1,483.5 404.3,484.5 406.2,484.8 407.8,484.9 409.6,484.5 411.5,484.8 413.7,483.9 415.6,483.5 417.4,482.6 419.1,481.3 420.9,480.8 422.3,480.2 424.2,480.1 425.5,480.8 428.2,480.2 429.4,481.7 430.9,482.9 432.7,484.2 434.4,484.8 436.1,485.4 437.7,485.3"/><path class="ft" d="M328.0,378.3H437.1"/><path class="fr3" d="M437.1,378.3V485.8"/><path class="fl" d="M328.0,377.8V485.8"/><path class="fb" d="M327.4,485.8H437.6"/></g>
<g><polygon class="g" points="95.0,600.5 95.0,591.7 95.4,590.5 95.6,588.4 96.6,587.2 96.6,585.3 97.4,583.8 97.7,582.3 97.8,581.0 98.2,579.1 98.8,577.2 99.3,575.3 99.4,573.5 100.0,571.9 100.1,570.8 100.4,568.8 100.9,566.9 101.1,565.9 101.1,564.2 101.3,562.1 101.5,560.6 102.2,559.1 102.5,557.9 102.4,555.9 102.6,554.4 103.1,552.7 103.4,551.1 103.3,549.4 103.6,547.9 104.0,545.5 104.6,544.5 104.5,542.8 104.7,540.7 105.1,539.2 105.0,536.9 105.3,535.5 105.8,533.8 106.2,532.4 106.1,530.8 106.4,528.6 106.8,527.8 107.3,525.7 107.5,523.9 107.5,523.0 108.0,520.6 108.1,519.6 108.5,517.7 108.6,515.6 109.3,513.9 109.5,512.2 109.9,510.3 110.1,509.0 110.6,506.9 111.7,505.3 112.5,502.9 112.9,504.4 113.9,506.3 114.4,508.3 114.8,509.8 114.8,511.9 115.0,513.5 115.1,515.5 115.6,516.7 115.8,518.8 116.0,520.4 116.4,521.6 116.6,523.7 116.3,525.1 116.9,526.5 117.0,528.5 117.2,529.7 117.1,532.1 117.3,533.0 117.7,534.5 117.9,536.5 118.2,538.4 118.2,539.9 118.4,541.6 118.5,542.6 118.6,545.0 119.3,546.0 119.3,547.6 119.4,549.4 119.6,551.4 119.8,552.7 120.2,554.7 120.4,555.9 120.3,557.8 120.7,558.8 120.8,560.4 121.2,562.8 121.0,564.1 121.7,566.0 121.8,566.9 121.9,568.8 122.3,570.5 122.7,572.3 122.8,574.3 123.2,575.7 123.8,578.0 124.1,579.6 124.5,580.9 125.4,582.6 126.3,584.5 126.8,586.3 127.6,587.7 128.9,589.0 130.0,590.4 132.1,590.7 134.0,591.7 135.9,592.5 138.1,593.1 139.6,593.5 141.5,594.2 143.5,594.4 145.3,594.8 146.9,595.0 148.8,595.2 150.6,595.2 152.5,595.2 154.2,595.2 156.4,594.8 158.3,594.4 159.5,593.1 160.7,592.2 162.3,591.7 163.4,590.6 165.0,589.0 166.4,590.2 167.7,591.7 168.6,593.3 169.1,595.5 169.8,597.1 170.6,598.7 171.7,600.3 171.7,600.5"/><polygon class="k" points="72.0,600.5 71.3,533.8 74.8,519.0 77.4,508.3 78.2,505.3 78.9,502.8 79.9,502.8 80.6,505.3 82.2,512.3 83.8,531.2 86.0,550.0 88.1,566.2 90.2,578.3 92.8,587.7 96.3,594.4 100.4,598.5 104.4,600.3 104.4,600.5"/><polyline class="l" points="96.3,590.4 96.9,588.3 97.1,586.8 97.5,585.2 97.9,583.0 98.7,581.7 99.0,579.6 99.3,578.3 99.9,576.0 99.9,574.8 100.5,573.2 100.5,571.2 101.0,569.5 101.5,568.0 101.7,566.2 101.9,564.8 102.5,563.0 102.8,561.2 103.3,559.7 103.4,557.5 103.6,555.8 104.1,554.0 104.4,552.7 104.9,550.6 105.5,549.0 105.9,547.6 106.4,545.9 106.7,543.9 107.1,541.9 108.1,540.9 108.9,539.3 109.8,537.9 110.4,536.5 110.9,534.6 111.0,532.9 111.5,531.7 112.0,530.3 112.5,528.5 112.8,527.0 113.5,524.8 113.8,523.1 114.1,521.7 114.6,519.2 115.2,517.7 115.7,516.2 116.0,514.2 116.3,513.1 117.1,511.2 117.4,509.7 117.9,508.3 118.8,506.8 119.6,505.5 120.6,504.2 122.5,502.9 123.1,504.8 123.7,506.5 124.0,507.6 124.6,509.6 125.5,510.8 126.6,512.4 127.3,513.7 128.1,515.1 129.3,516.7 130.0,517.7 131.0,519.6 131.9,521.6 132.7,523.1 133.4,524.3 134.3,525.6 135.4,527.1 137.5,528.5 137.9,530.1 138.3,531.8 138.7,533.1 139.0,535.2 139.4,536.5 139.9,538.3 140.7,540.1 141.0,541.7 141.4,543.2 142.1,544.6 142.6,546.1 143.2,548.2 143.7,549.7 144.2,551.4 144.8,552.7 145.1,554.0 145.7,555.6 146.3,557.4 147.1,558.9 147.5,560.8 148.2,562.7 148.7,563.6 149.1,565.8 149.8,567.4 150.2,568.8 151.0,570.6 151.6,572.3 152.4,574.0 152.9,575.6 153.6,577.7 154.6,579.3 155.6,581.0 156.9,582.6 158.3,583.7 159.6,585.1 161.0,586.3 162.3,587.7 163.7,589.0 166.3,590.4 167.3,592.6 168.2,594.4 168.9,595.7 169.7,597.1 170.4,599.0 173.1,600.3"/><path class="ft" d="M72.0,492.8H183.5"/><path class="fr" d="M183.5,492.8V600.5"/><path class="fl" d="M72.0,492.3V600.5"/><path class="fb" d="M71.4,600.5H184.0"/></g>
<g><polygon class="g" points="224.5,600.5 224.5,590.4 225.1,588.5 225.6,587.4 226.5,585.5 227.2,583.7 227.6,581.8 228.0,580.3 228.5,578.6 228.9,576.7 228.9,574.7 229.6,573.0 229.8,571.5 230.2,570.0 230.1,568.6 230.4,567.0 231.1,564.8 231.3,563.7 231.3,562.0 231.5,560.6 232.1,559.0 232.0,556.8 232.5,555.4 232.8,553.8 232.9,552.3 233.5,550.1 233.3,548.7 233.7,547.0 234.0,545.0 234.0,543.1 234.5,541.9 234.7,540.2 235.0,538.6 235.2,536.5 235.6,534.8 235.5,532.9 235.7,532.0 236.4,530.3 236.2,528.6 236.5,527.2 237.0,525.5 237.2,523.5 237.6,522.4 237.7,520.4 237.8,518.6 238.4,517.1 238.5,515.1 239.1,513.3 239.0,511.9 239.4,510.4 239.8,508.3 240.3,507.1 241.0,505.6 241.7,503.7 242.6,505.5 243.3,506.9 243.5,508.4 243.7,510.2 244.3,511.9 244.4,514.2 244.7,515.7 245.2,517.7 245.2,519.5 245.4,521.4 245.8,522.7 246.0,524.2 246.4,526.1 246.5,527.0 246.6,529.4 246.8,530.6 247.0,531.9 247.1,533.8 247.4,535.8 247.2,537.3 247.7,538.9 248.0,541.1 248.3,542.2 248.1,544.4 248.5,546.1 248.8,547.4 248.9,549.1 249.2,551.2 249.2,552.7 249.3,554.3 249.7,555.7 249.7,557.5 249.9,559.1 250.5,561.1 250.3,562.7 250.9,564.2 250.7,565.8 251.0,567.5 251.4,568.8 251.6,570.5 251.8,572.6 252.2,574.4 252.6,575.5 253.0,577.5 253.0,579.5 253.5,581.0 254.1,582.2 255.0,584.5 255.5,585.7 256.2,587.7 257.9,589.4 259.5,590.9 261.1,591.6 262.5,592.6 264.0,593.1 265.7,593.2 267.6,594.2 269.4,594.4 271.4,595.0 273.0,595.2 274.8,595.2 276.4,595.1 278.2,595.5 280.2,595.2 282.3,595.1 283.9,594.6 285.6,594.4 287.1,593.2 288.2,592.5 289.6,591.7 291.2,590.5 292.3,589.8 295.0,590.9 295.7,592.2 297.0,594.0 297.7,595.8 298.8,596.9 299.7,598.2 300.4,599.8 300.4,600.5"/><polygon class="k" points="201.4,600.5 201.3,533.8 204.8,519.0 207.4,508.3 207.6,505.3 208.4,502.8 209.3,502.8 210.1,505.3 211.7,512.3 213.3,531.2 215.4,550.0 217.6,566.2 219.7,578.3 222.3,587.7 225.8,594.4 229.8,598.5 233.1,600.3 233.1,600.5"/><polyline class="l" points="225.0,589.0 225.9,586.9 226.9,585.2 227.7,583.7 228.2,581.7 228.5,580.6 229.1,579.3 229.4,577.2 229.9,576.0 230.4,574.2 230.9,572.3 231.2,570.8 231.3,569.4 231.6,567.5 232.0,565.6 232.2,564.4 232.9,562.7 233.1,560.8 233.4,559.2 233.6,557.6 233.9,555.6 234.1,554.2 234.5,553.0 234.7,551.0 234.9,549.5 235.3,547.9 235.4,546.5 235.8,544.6 235.8,542.9 236.1,541.2 236.6,539.9 236.8,538.0 237.2,536.7 237.2,535.1 237.6,533.3 237.9,531.4 238.2,529.8 238.5,528.5 238.9,527.1 239.2,525.0 239.6,523.7 240.0,521.8 240.1,519.9 240.7,518.3 240.7,516.8 241.2,515.0 241.6,513.7 242.3,511.4 242.9,510.0 243.3,508.3 245.2,509.6 245.9,507.6 247.1,505.6 247.7,506.9 248.4,509.2 248.6,511.0 249.2,512.3 249.9,513.5 249.9,515.6 250.4,517.2 250.8,518.6 251.4,520.4 251.6,522.0 252.1,523.7 252.2,526.0 252.8,527.9 253.2,529.5 253.5,531.2 253.9,532.7 254.5,534.5 254.5,536.5 255.1,538.2 255.2,539.8 255.7,541.9 256.4,543.9 256.7,545.2 256.8,547.1 257.4,548.5 257.8,550.0 258.3,551.4 258.8,553.1 259.5,555.0 260.0,556.7 260.5,558.6 261.5,560.2 261.9,562.1 262.7,563.5 263.8,565.0 264.6,566.8 265.4,568.8 266.3,570.9 267.4,572.5 268.1,574.2 268.8,576.0 269.7,578.2 270.8,579.6 271.8,581.3 272.5,582.4 273.5,583.7 274.6,584.6 276.2,586.3 277.3,586.9 278.9,588.1 280.2,589.0 282.2,589.8 284.2,590.9 286.0,591.2 288.3,591.7 290.1,590.8 292.3,590.4 295.0,591.7 296.0,593.0 296.9,594.1 297.7,595.8 299.1,597.5 300.4,599.3 302.4,599.6 304.4,600.3"/><path class="ft" d="M201.4,492.8H312.6"/><path class="fr" d="M312.6,492.8V600.5"/><path class="fl" d="M201.4,492.3V600.5"/><path class="fb" d="M200.8,600.5H313.1"/></g>
<g><polygon class="g" points="351.0,600.5 351.0,590.4 351.7,588.3 352.2,586.8 353.1,585.5 353.7,583.7 354.3,581.6 354.4,579.8 354.7,578.5 354.9,576.5 355.7,575.0 355.8,573.3 356.3,571.5 356.8,569.5 357.0,568.5 357.1,566.4 357.7,564.9 357.5,563.1 358.1,561.9 358.4,560.4 358.5,559.0 358.7,557.0 359.0,555.4 359.5,553.8 359.7,552.0 359.9,549.8 359.9,548.3 360.0,546.6 360.3,544.9 360.8,543.3 360.9,541.4 361.1,540.4 361.6,538.3 361.7,536.5 361.8,535.1 362.0,533.2 362.6,531.8 362.6,530.2 363.0,528.7 362.9,526.4 363.1,525.0 363.3,524.0 363.9,521.8 363.9,520.4 364.2,518.6 364.6,516.9 364.6,515.0 365.0,513.2 365.3,512.1 365.4,509.7 365.8,508.3 366.7,506.8 366.8,504.8 367.7,503.7 368.3,505.4 369.3,506.9 369.7,508.6 369.7,510.4 370.5,512.3 370.8,514.4 370.6,516.1 371.2,517.7 371.4,519.3 371.4,521.0 371.5,522.5 371.9,524.6 372.3,525.6 372.3,527.1 372.7,529.3 372.6,530.7 372.9,531.9 373.0,533.8 373.4,535.6 373.6,537.3 373.4,538.8 373.6,541.1 374.2,542.7 374.1,543.7 374.6,546.2 374.4,547.5 374.6,549.5 375.1,550.6 375.2,552.7 375.4,554.4 375.5,556.3 375.8,557.3 376.1,559.4 376.1,560.6 376.8,562.5 376.7,564.0 376.7,565.4 377.0,567.3 377.3,568.8 377.5,570.3 377.7,572.4 378.1,574.4 378.8,575.4 378.7,577.7 379.0,578.9 379.5,581.0 380.4,582.7 380.8,584.6 381.7,585.7 382.2,587.7 383.6,589.2 385.4,590.9 386.9,591.6 388.6,592.5 390.0,593.1 392.1,593.2 393.5,593.8 395.4,594.4 397.4,594.2 398.8,594.4 400.8,594.4 402.5,594.0 404.2,594.3 406.2,593.6 407.9,593.6 409.8,592.5 411.5,592.5 413.8,592.0 415.6,590.9 418.3,590.4 419.9,592.1 421.0,593.1 422.0,594.4 422.7,596.1 423.7,597.9 424.9,598.7 426.3,600.3 426.3,600.5"/><polygon class="k" points="328.0,600.5 327.5,533.8 331.0,519.0 333.7,508.3 334.1,505.3 334.9,502.8 335.8,502.8 336.6,505.3 338.2,512.3 339.5,531.2 341.7,550.0 343.8,566.2 345.9,578.3 348.3,587.7 351.8,594.4 355.8,598.5 359.0,600.3 359.0,600.5"/><polyline class="l" points="351.0,589.0 351.9,587.4 352.8,585.4 353.7,583.7 354.0,582.4 354.4,580.2 354.8,579.0 355.6,577.4 355.7,575.6 356.3,574.2 356.5,572.4 356.9,571.2 357.3,569.4 357.8,567.2 357.9,566.2 358.1,564.1 358.8,562.2 359.0,560.8 359.4,559.5 359.7,557.4 359.7,555.8 359.9,553.9 360.3,552.4 360.8,550.9 360.7,549.3 361.0,547.5 361.5,546.0 361.7,544.6 361.9,542.7 362.3,541.4 362.7,539.8 362.6,537.9 362.9,535.8 363.2,534.7 363.4,532.6 363.8,530.6 363.7,529.5 364.4,527.6 364.4,525.8 364.8,524.4 365.1,522.8 365.4,521.1 365.7,518.7 365.8,517.0 366.1,515.3 366.4,514.2 366.6,512.3 366.8,510.3 367.5,509.3 368.2,507.5 368.5,505.6 370.6,503.7 371.4,505.5 372.0,507.7 372.5,509.6 372.8,511.5 373.0,513.1 373.6,514.8 374.0,517.2 374.2,518.4 374.7,520.4 375.1,522.2 375.2,524.0 375.5,525.9 375.7,527.8 376.1,529.3 376.5,531.2 376.9,533.0 377.2,534.5 377.8,536.1 378.2,538.2 378.3,540.2 378.7,541.9 379.0,543.7 379.3,545.2 379.6,546.6 380.2,548.0 380.7,550.1 380.8,551.3 381.5,553.4 381.9,554.4 382.8,556.3 383.3,558.1 385.4,559.4 385.9,560.8 386.4,562.7 386.9,564.3 387.3,566.2 388.2,568.2 388.7,569.2 389.3,571.3 390.0,572.9 390.8,574.6 391.8,576.3 392.7,578.3 393.5,580.3 394.3,581.9 395.4,583.7 396.1,585.4 397.1,586.3 398.1,587.7 399.4,588.5 401.0,589.5 402.1,590.4 404.0,591.0 406.2,591.7 407.8,592.1 409.8,591.5 411.5,591.7 413.7,591.8 415.6,591.7 417.5,591.5 419.1,590.9 420.4,592.5 421.8,594.4 422.7,596.1 423.8,597.0 424.5,598.5 425.9,599.6 427.7,600.3"/><path class="ft" d="M328.0,492.8H437.1"/><path class="fr3" d="M437.1,492.8V600.5"/><path class="fl" d="M328.0,492.3V600.5"/><path class="fb" d="M327.4,600.5H437.6"/></g>
<g><polygon class="g" points="95.0,715.5 95.0,708.1 95.7,706.2 96.4,704.5 97.0,703.5 97.7,701.3 97.9,699.6 98.7,697.8 98.9,696.9 99.7,694.9 99.8,693.9 100.4,691.9 100.6,690.3 101.1,688.7 101.6,687.3 101.8,685.5 102.2,683.6 102.4,681.6 102.6,680.5 103.1,678.5 103.5,676.5 103.8,675.0 104.0,673.6 104.0,671.7 104.5,670.3 104.8,668.9 105.1,667.5 105.3,666.0 105.5,664.3 105.8,662.3 106.2,661.0 106.1,659.1 106.6,657.1 106.8,655.9 106.8,653.8 107.4,652.5 107.9,651.3 108.1,649.7 108.0,648.0 108.5,646.2 108.6,644.1 109.1,642.6 109.2,641.1 110.1,639.0 110.0,638.1 110.5,636.0 110.8,634.7 111.2,632.7 111.5,631.0 111.8,629.8 112.0,627.9 112.7,626.0 112.8,624.7 113.3,623.3 114.3,621.5 115.2,619.8 115.8,621.2 116.4,623.4 117.1,624.6 117.1,626.0 117.4,627.8 117.7,629.8 118.3,632.2 118.2,633.6 118.7,635.4 118.8,637.4 119.4,638.9 119.0,640.4 119.5,642.2 119.6,643.4 120.0,645.8 120.0,647.1 120.3,648.8 120.3,650.6 120.9,652.2 120.7,653.5 121.3,655.8 121.2,657.3 121.3,659.0 121.5,660.4 121.9,662.3 122.1,663.9 122.2,665.7 122.4,667.4 123.0,668.8 123.2,670.2 123.5,671.6 123.5,673.3 123.4,675.0 123.8,676.4 124.1,678.5 124.3,680.6 125.0,682.2 125.4,683.8 125.7,686.0 125.9,687.4 126.2,689.2 126.5,691.2 127.1,692.2 127.5,694.3 128.1,695.8 128.7,697.3 129.6,699.1 130.6,700.4 131.3,701.3 132.5,701.8 133.8,702.9 135.4,704.0 137.2,704.4 139.4,705.4 140.9,706.7 142.0,708.1 143.5,709.4 144.7,710.6 146.1,711.7 147.5,713.5 149.8,714.5 151.5,714.8 153.3,714.7 154.9,714.2 156.9,714.0 158.8,713.3 160.3,712.7 162.3,712.1 163.5,711.3 165.1,710.4 166.3,709.4 168.6,709.0 170.4,708.1 173.1,709.4 173.8,711.2 175.0,712.1 175.8,713.5 177.8,714.7 179.8,715.3 179.8,715.5"/><polygon class="k" points="72.0,715.5 71.3,646.2 74.9,632.7 77.6,621.9 78.2,620.3 78.9,617.8 79.9,617.8 80.6,620.3 83.0,627.3 84.6,646.2 86.8,665.0 88.9,681.2 90.6,693.3 92.8,702.7 96.3,710.8 99.0,714.0 101.7,715.3 101.7,715.5"/><polyline class="l" points="96.3,710.8 97.4,709.7 98.0,707.9 99.0,706.7 99.9,704.7 100.6,703.3 101.7,701.3 102.2,699.9 103.0,698.1 103.5,696.1 104.0,694.6 104.4,693.3 105.0,691.7 105.5,690.3 105.8,688.3 106.0,687.2 106.7,685.2 107.1,683.8 107.5,682.2 108.0,680.3 108.5,678.7 108.7,677.0 109.4,675.2 109.8,673.1 110.0,671.0 110.5,669.4 111.0,667.7 111.1,666.0 111.9,664.8 112.2,662.5 112.5,661.0 112.7,659.5 113.1,657.3 113.7,655.5 114.0,653.7 114.4,652.5 115.0,650.8 115.2,648.8 115.6,647.4 115.7,645.0 116.2,643.7 116.8,641.7 116.9,639.8 117.3,638.1 117.9,636.5 118.0,634.5 118.3,632.9 118.8,631.4 119.2,630.0 119.7,628.0 120.0,626.5 120.7,625.4 121.0,623.9 121.4,621.9 122.4,620.6 123.5,618.7 124.5,620.7 125.7,621.9 126.0,623.9 126.4,624.9 126.8,626.6 126.9,628.5 127.3,630.0 127.8,631.6 127.8,633.3 128.3,635.5 128.2,637.0 128.8,638.6 128.9,640.8 129.2,642.4 129.2,644.4 129.4,645.5 129.6,647.6 129.8,649.0 130.3,651.0 130.5,652.3 130.5,654.2 130.6,655.6 131.0,657.6 131.2,659.4 131.6,661.1 131.6,662.5 132.1,664.9 132.2,666.3 132.4,667.6 132.7,669.4 133.2,670.8 133.3,672.4 133.8,674.0 134.0,675.8 134.7,677.7 135.7,679.1 136.2,681.2 136.6,683.1 137.4,684.6 138.0,686.0 138.6,687.9 138.9,689.3 139.7,690.9 139.8,692.5 140.2,694.7 140.8,696.0 141.6,697.8 142.0,699.1 142.7,700.6 143.5,702.7 144.4,704.5 145.2,706.1 146.2,708.1 147.2,709.6 148.3,711.0 149.4,712.1 151.3,712.9 152.9,714.0 155.1,714.1 156.9,714.0 159.0,713.2 161.0,712.9 162.9,712.2 165.0,710.8 167.1,709.7 169.0,708.6 170.7,708.5 172.5,708.1 173.8,709.6 175.2,710.8 176.7,712.5 177.9,714.0 179.6,715.1 181.2,715.3"/><path class="ft" d="M72.0,607.5H183.5"/><path class="fr" d="M183.5,607.5V715.5"/><path class="fl" d="M72.0,607.0V715.5"/><path class="fb" d="M71.4,715.5H184.0"/></g>
<g><polygon class="g" points="224.5,709.7 224.5,702.7 225.2,700.9 226.1,699.4 227.2,697.3 227.5,695.7 228.5,694.0 229.0,692.7 229.3,691.0 229.8,689.2 230.3,687.3 231.0,685.6 231.5,684.2 231.4,681.8 232.1,680.5 232.5,678.5 232.7,676.9 233.1,675.4 233.8,673.6 233.7,672.0 234.2,670.4 234.5,668.7 235.2,667.0 235.2,665.0 235.7,663.7 235.8,661.5 236.3,660.1 236.0,658.5 236.5,656.7 237.1,655.0 237.3,653.7 237.2,651.9 237.6,650.1 237.9,648.8 238.4,647.3 238.9,645.8 239.1,644.2 239.5,642.2 239.6,640.5 240.1,639.1 240.5,637.4 240.6,635.4 240.7,633.5 241.1,631.9 241.7,630.1 242.2,628.0 242.5,626.5 242.8,624.6 243.2,623.3 243.8,621.0 244.7,619.2 245.3,621.1 246.2,622.9 246.5,624.6 247.0,626.2 247.1,627.9 247.4,629.9 247.8,631.4 247.9,634.0 248.2,635.4 248.1,637.2 248.7,639.0 248.8,640.4 249.2,641.9 249.3,643.9 249.5,645.5 249.3,647.4 249.8,648.8 249.9,650.8 250.4,652.5 250.3,654.2 250.5,655.4 250.8,657.4 251.1,659.0 251.1,660.8 251.4,662.3 251.6,664.1 251.7,665.3 252.4,667.1 252.4,668.6 252.9,670.6 252.8,672.2 253.5,674.3 253.5,675.8 253.6,677.7 254.0,678.9 254.6,680.7 254.8,682.3 255.2,683.8 255.7,685.2 256.6,687.0 256.8,688.7 257.7,690.4 258.4,691.9 259.5,692.9 260.4,694.7 261.3,696.0 262.9,697.0 264.1,698.0 265.4,698.7 266.5,699.9 268.1,700.6 269.4,701.3 270.6,702.7 272.1,703.8 273.5,705.4 275.0,706.6 276.1,706.8 277.5,708.1 279.6,708.0 281.1,708.7 282.9,708.9 284.9,708.8 286.5,708.4 288.3,708.1 290.3,707.6 291.8,706.9 293.7,705.9 295.2,705.0 296.1,703.7 297.7,703.2 299.6,702.7 300.9,702.7 303.6,704.0 305.1,705.1 306.3,706.7 307.9,707.8 309.8,709.4 309.8,709.7"/><polygon class="k" points="201.4,709.7 201.3,643.5 204.9,631.3 207.6,621.9 207.6,620.3 208.4,617.8 209.3,617.8 210.1,620.3 212.5,627.3 214.1,646.2 216.2,662.3 218.4,678.5 220.1,689.2 222.8,698.7 225.0,704.8 227.7,708.1 230.4,709.4 230.4,709.7"/><polyline class="l" points="225.5,705.4 226.5,704.3 227.5,702.8 228.2,701.3 229.0,699.9 230.2,697.8 230.9,696.0 231.6,694.3 232.2,692.8 233.1,691.0 233.6,689.2 234.2,687.7 234.5,685.8 235.1,684.7 235.6,682.7 236.3,681.2 236.7,679.3 237.1,677.8 237.5,675.9 238.3,674.1 238.4,671.9 239.0,670.4 239.5,668.7 239.7,666.9 240.1,665.5 240.3,663.4 240.8,662.3 241.2,660.1 241.2,659.0 241.7,656.9 242.1,655.3 242.3,653.4 242.6,651.9 242.9,650.0 243.2,648.5 243.4,646.5 243.7,645.3 243.8,643.5 243.9,641.7 244.4,639.9 244.5,638.5 245.0,636.8 245.2,634.7 245.7,633.4 245.8,631.6 246.0,630.0 246.3,628.0 246.5,626.9 247.0,624.8 247.4,623.6 247.6,621.9 248.5,619.9 249.2,617.9 249.4,619.9 250.3,621.6 250.6,622.8 250.8,624.6 251.5,626.7 252.5,628.7 252.8,630.3 253.2,632.6 253.3,634.0 254.0,636.4 254.1,638.1 254.1,639.4 254.5,641.7 254.8,642.9 254.8,644.6 255.1,646.6 255.1,648.3 255.6,649.9 255.7,651.5 256.0,653.1 256.2,655.3 256.7,656.8 256.6,658.4 257.3,660.3 257.3,662.3 257.7,664.5 258.0,666.2 258.1,667.5 258.5,669.9 258.6,671.6 258.9,673.1 259.4,675.2 260.2,676.4 261.1,678.5 262.5,679.7 264.0,681.2 265.6,682.4 266.7,683.8 267.8,685.1 268.5,686.4 269.4,687.9 270.0,689.5 270.7,691.0 271.3,693.3 272.1,694.6 272.9,696.8 273.7,698.1 274.8,700.0 275.6,701.4 276.7,702.5 277.5,704.0 279.1,705.3 280.3,706.1 281.5,707.5 283.4,707.9 285.6,708.1 287.6,707.8 289.1,708.0 291.0,707.5 293.2,706.7 295.0,705.4 297.2,704.1 299.0,703.2 300.8,703.3 302.5,703.2 304.0,704.4 305.2,705.4 306.5,706.8 307.9,708.1 309.5,708.5 311.2,709.4"/><path class="ft" d="M201.4,607.5H312.6"/><path class="fr" d="M312.6,607.5V709.7"/><path class="fl" d="M201.4,607.0V709.7"/><path class="fb" d="M200.8,709.7H313.1"/></g>
<g><polygon class="g" points="350.2,715.5 350.2,708.1 351.3,705.9 352.1,704.5 352.8,702.7 353.6,701.0 354.1,699.2 354.7,697.8 354.8,696.1 355.5,694.6 356.1,692.4 356.4,690.6 356.7,688.9 357.2,687.2 357.9,685.6 358.2,683.8 358.8,682.5 359.1,680.9 359.3,679.0 359.8,677.2 359.7,675.5 360.3,673.5 360.4,671.8 360.9,670.4 361.3,669.1 361.5,667.1 361.5,665.1 362.1,663.9 362.2,662.0 362.3,660.4 362.6,659.2 363.0,657.5 363.3,655.9 363.6,654.2 364.0,652.9 364.0,651.4 364.6,649.7 364.7,648.2 365.1,645.9 365.3,644.9 365.6,643.3 365.8,641.5 365.8,639.8 366.3,638.1 366.4,636.5 367.1,634.5 367.0,632.5 367.5,630.8 368.0,629.5 368.2,627.8 368.5,626.0 368.9,624.1 369.5,622.4 370.3,620.6 371.3,622.3 372.0,624.6 372.3,626.9 372.4,627.9 372.6,630.3 372.8,632.0 373.2,633.8 373.6,635.4 374.0,637.4 373.8,638.8 374.1,640.8 374.3,641.8 374.5,643.4 374.6,645.7 374.9,646.9 375.2,648.8 375.6,650.3 375.8,652.4 375.8,654.0 376.0,655.9 376.3,657.1 376.5,658.9 376.8,660.3 376.8,662.3 377.0,664.4 377.0,665.9 377.7,667.5 377.5,669.3 377.9,670.7 378.4,672.2 378.3,673.7 378.7,675.8 378.9,677.1 379.4,679.5 379.4,681.0 380.1,682.9 380.1,684.5 380.6,686.2 380.8,687.9 381.6,689.8 382.0,690.7 381.9,692.7 382.7,694.0 383.0,696.0 383.5,697.3 384.8,698.7 385.5,701.1 386.8,702.7 388.6,703.7 390.5,705.4 392.2,706.1 393.2,707.1 394.8,708.1 396.3,709.6 398.0,710.4 399.4,712.1 401.4,713.6 403.5,714.3 405.2,714.5 407.3,714.4 408.8,714.0 410.7,713.3 412.7,713.1 414.2,712.9 415.5,712.0 416.9,711.4 418.3,710.2 420.3,709.5 422.3,708.1 424.5,707.9 426.3,707.5 427.6,708.6 429.0,709.4 430.4,711.4 431.7,712.9 433.6,714.1 435.8,714.8 435.8,715.5"/><polygon class="k" points="328.0,715.5 327.5,646.2 331.1,632.7 333.8,621.9 334.1,620.3 334.9,617.8 335.8,617.8 336.6,620.3 339.0,627.3 340.3,646.2 342.5,665.0 344.6,681.2 346.3,693.3 348.3,702.7 351.0,709.4 353.7,713.5 356.3,714.8 356.3,715.5"/><polyline class="l" points="351.8,710.8 352.9,709.3 353.4,708.5 354.5,706.7 355.5,705.5 356.5,704.1 357.2,702.7 357.8,701.1 359.0,699.4 359.8,697.3 360.3,696.1 361.0,693.9 361.5,692.1 361.9,691.0 362.5,689.2 362.8,687.4 363.4,686.2 363.6,684.1 364.0,682.8 364.0,680.5 364.3,678.9 364.9,677.3 365.2,675.8 365.4,674.4 365.6,672.8 365.9,671.1 366.3,669.4 366.7,667.5 366.9,665.9 367.3,664.2 367.6,662.7 367.8,660.9 367.9,659.6 368.0,657.9 368.6,656.6 368.6,655.1 369.0,653.0 368.9,651.2 369.3,649.6 369.6,648.2 369.5,647.1 370.0,645.2 370.1,643.5 370.4,641.5 370.6,639.8 370.9,638.1 371.2,636.6 371.4,635.4 371.7,633.6 371.7,631.7 372.2,630.0 372.6,628.2 373.1,627.0 373.4,625.0 373.3,623.4 373.8,621.9 374.5,619.6 375.5,617.9 376.1,619.9 376.0,621.3 376.8,622.7 377.1,624.6 377.4,626.2 377.8,628.5 378.0,630.0 378.1,631.5 378.3,633.8 378.7,635.4 378.9,637.0 379.1,639.0 379.1,640.1 379.7,641.8 379.9,644.2 380.0,645.5 380.1,647.5 380.3,648.8 380.4,650.3 380.8,651.9 380.8,653.9 381.0,655.4 381.5,657.4 381.7,659.1 381.7,660.4 381.9,662.3 382.3,664.2 382.4,665.5 382.6,667.7 383.1,669.1 383.2,671.6 383.5,673.1 383.9,674.6 384.4,676.3 384.5,678.3 384.8,679.7 385.4,681.2 385.9,683.2 386.8,684.7 387.3,686.5 388.3,688.0 389.0,689.2 390.0,690.6 390.7,692.7 391.8,694.1 392.7,696.0 393.7,697.5 394.6,699.0 395.4,700.0 396.5,701.6 397.4,702.9 398.1,704.8 399.4,706.8 400.8,708.1 401.8,709.6 402.9,710.7 404.0,712.1 406.0,713.4 407.5,714.0 409.7,713.6 411.5,714.0 413.5,713.2 415.6,712.9 417.7,712.0 419.6,710.8 421.5,710.3 423.7,709.4 425.6,709.2 427.2,709.4 428.3,710.1 429.8,711.3 431.4,712.8 432.5,714.0 433.9,714.6 435.8,714.8"/><path class="ft" d="M328.0,607.5H437.1"/><path class="fr3" d="M437.1,607.5V715.5"/><path class="fl" d="M328.0,607.0V715.5"/><path class="fb" d="M327.4,715.5H437.6"/></g>
</g>
</svg>
</body></html>
